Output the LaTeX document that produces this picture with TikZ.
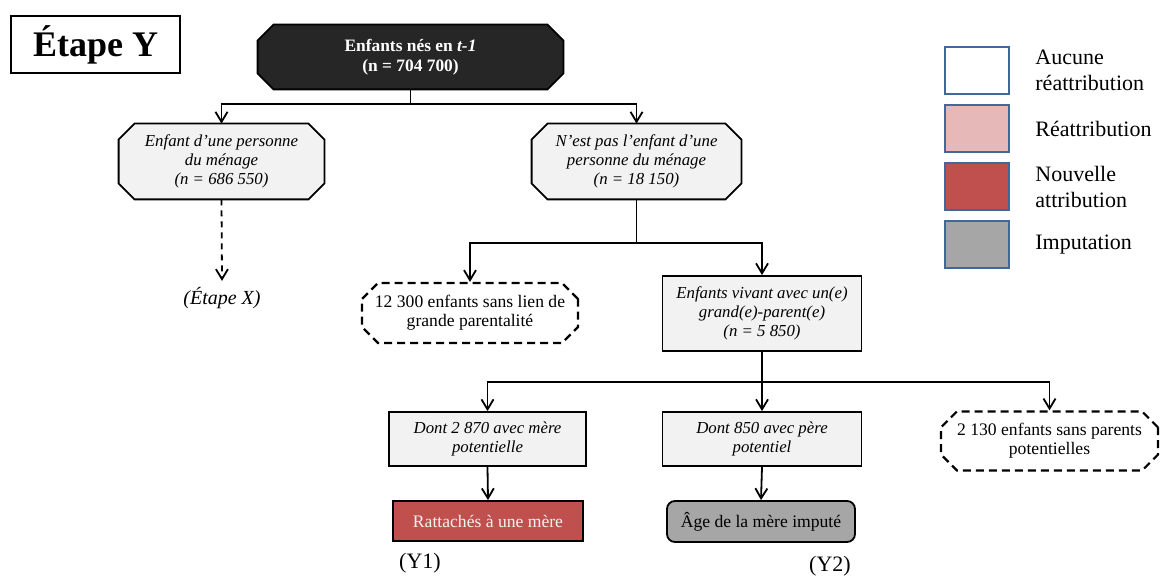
\documentclass[tikz,border=0pt]{standalone}
\usepackage{fontspec}
\setmainfont{Liberation Serif}
\usepackage{xcolor}
\usetikzlibrary{arrows.meta,positioning,shapes.misc,backgrounds}

\definecolor{darkfill}{HTML}{262626}
\definecolor{lightfill}{HTML}{F2F2F2}
\definecolor{pinkfill}{HTML}{E6B9B8}
\definecolor{redfill}{HTML}{C0504D}
\definecolor{grayfill}{HTML}{A6A6A6}
\definecolor{legendline}{HTML}{41689A}

% contour a coins coupes autour d'un noeud
\newcommand{\octagone}[2]{%
  \draw[line width=0.9pt, fill=#2]
    ([xshift=8pt]#1.north west) -- ([xshift=-8pt]#1.north east)
    -- ([yshift=-8pt]#1.north east) -- ([yshift=8pt]#1.south east)
    -- ([xshift=-8pt]#1.south east) -- ([xshift=8pt]#1.south west)
    -- ([yshift=8pt]#1.south west) -- ([yshift=-8pt]#1.north west) -- cycle;}

\begin{document}
\begin{tikzpicture}[
    x=0.5pt, y=-0.5pt,
    box/.style={
        draw,
        line width=0.9pt,
        align=center,
        inner sep=2pt,
        font=\fontsize{8.8}{9.5}\selectfont
    },
    octbox/.style={
        align=center,
        inner sep=0pt,
        font=\fontsize{8.4}{9.5}\selectfont\itshape
    },
    rootbox/.style={octbox, text=white, font=\fontsize{8.7}{10}\selectfont\bfseries},
    plainbox/.style={box, fill=lightfill, font=\fontsize{8.4}{9.5}\selectfont\itshape},
    dashbox/.style={
        box,
        chamfered rectangle,
        chamfered rectangle xsep=4pt,
        chamfered rectangle ysep=4pt,
        line width=1.1pt,
        dash pattern=on 4pt off 2.5pt
    },
    newbox/.style={box, fill=redfill, text=lightfill},
    imputbox/.style={box, fill=grayfill, rounded corners=4pt},
    legbox/.style={draw=legendline, line width=1pt, minimum width=32pt, minimum height=23.5pt},
    legtext/.style={anchor=west, align=left, inner sep=0pt, font=\fontsize{11}{13}\selectfont},
    arrow/.style={-{Straight Barb[length=5pt,width=6pt]}, line width=0.9pt}
]
\useasboundingbox (0,0) rectangle (1161,576);

% titre
\node[draw, line width=0.8pt, minimum width=84.5pt, minimum height=28.5pt,
      font=\fontsize{18}{20}\selectfont\bfseries] (etape) at (95.5,44.5) {Étape Y};

% arbre
\node[rootbox, minimum width=152.5pt, minimum height=32pt] (root) at (410.5,57)
    {Enfants nés en \textit{t-1}\\(n = 704 700)};
\node[octbox, minimum width=102.5pt, minimum height=37.5pt] (menage) at (221.5,161.5)
    {Enfant d’une personne\\du ménage\\(n = 686 550)};
\node[octbox, minimum width=104.5pt, minimum height=37.5pt] (horsmen) at (636.5,161.5)
    {N’est pas l’enfant d’une\\personne du ménage\\(n = 18 150)};
\node[inner sep=3pt, font=\fontsize{10}{12}\selectfont\itshape] (etapex) at (222,298) {(Étape X)};
\node[dashbox, minimum width=108pt, minimum height=30pt] (sanslien) at (470,313)
    {12 300 enfants sans lien de\\grande parentalité};
\node[plainbox, minimum width=99.5pt, minimum height=37.5pt] (grandpar) at (762,313.5)
    {Enfants vivant avec un(e)\\grand(e)-parent(e)\\(n = 5 850)};
\node[plainbox, minimum width=98.5pt, minimum height=27pt] (mere) at (487.5,439)
    {Dont 2 870 avec mère\\potentielle};
\node[plainbox, minimum width=99.5pt, minimum height=27pt] (pere) at (762,439)
    {Dont 850 avec père\\potentiel};
\node[dashbox, minimum width=108.5pt, minimum height=29pt] (sansparents) at (1049.5,441)
    {2 130 enfants sans parents\\potentielles};
\node[newbox, minimum width=95pt, minimum height=20pt] (rattache) at (488,521)
    {Rattachés à une mère};
\node[imputbox, minimum width=94pt, minimum height=20.5pt] (agemere) at (761,521.5)
    {Âge de la mère imputé};
\node[font=\fontsize{11}{13}\selectfont] (yun) at (420,563) {(Y1)};
\node[font=\fontsize{11}{13}\selectfont] (ydeux) at (830,566) {(Y2)};

\begin{pgfonlayer}{background}
\octagone{root}{darkfill}
\octagone{menage}{lightfill}
\octagone{horsmen}{lightfill}
\end{pgfonlayer}

\draw[arrow] (root.south) -- ++(0,15) -| (menage.north);
\draw[arrow] (root.south) -- ++(0,15) -| (horsmen.north);
\draw[arrow, dash pattern=on 3pt off 2.5pt] (menage.south) -- (etapex.north);
\draw[arrow] (horsmen.south) -- ++(0,44) -| (sanslien.north);
\draw[arrow] (horsmen.south) -- ++(0,44) -| (grandpar.north);
\draw[arrow] (grandpar.south) -- ++(0,30) -| (mere.north);
\draw[arrow] (grandpar.south) -- (pere.north);
\draw[arrow] (grandpar.south) -- ++(0,30) -| (sansparents.north);
\draw[arrow] (mere.south) -- (rattache.north);
\draw[arrow] (pere.south) -- (agemere.north);

% legende
\node[legbox, fill=white] (legaucune) at (977,70.5) {};
\node[legbox, fill=pinkfill] (legreattr) at (977,128.5) {};
\node[legbox, fill=redfill] (legnouv) at (977,186.5) {};
\node[legbox, fill=grayfill] (legimput) at (977,244.5) {};
\node[legtext] (txtaucune) at (1035,70.5) {Aucune\\réattribution};
\node[legtext] (txtreattr) at (1035,128.5) {Réattribution};
\node[legtext] (txtnouv) at (1035,186.5) {Nouvelle\\attribution};
\node[legtext] (txtimput) at (1035,244.5) {Imputation};
\end{tikzpicture}
\end{document}
